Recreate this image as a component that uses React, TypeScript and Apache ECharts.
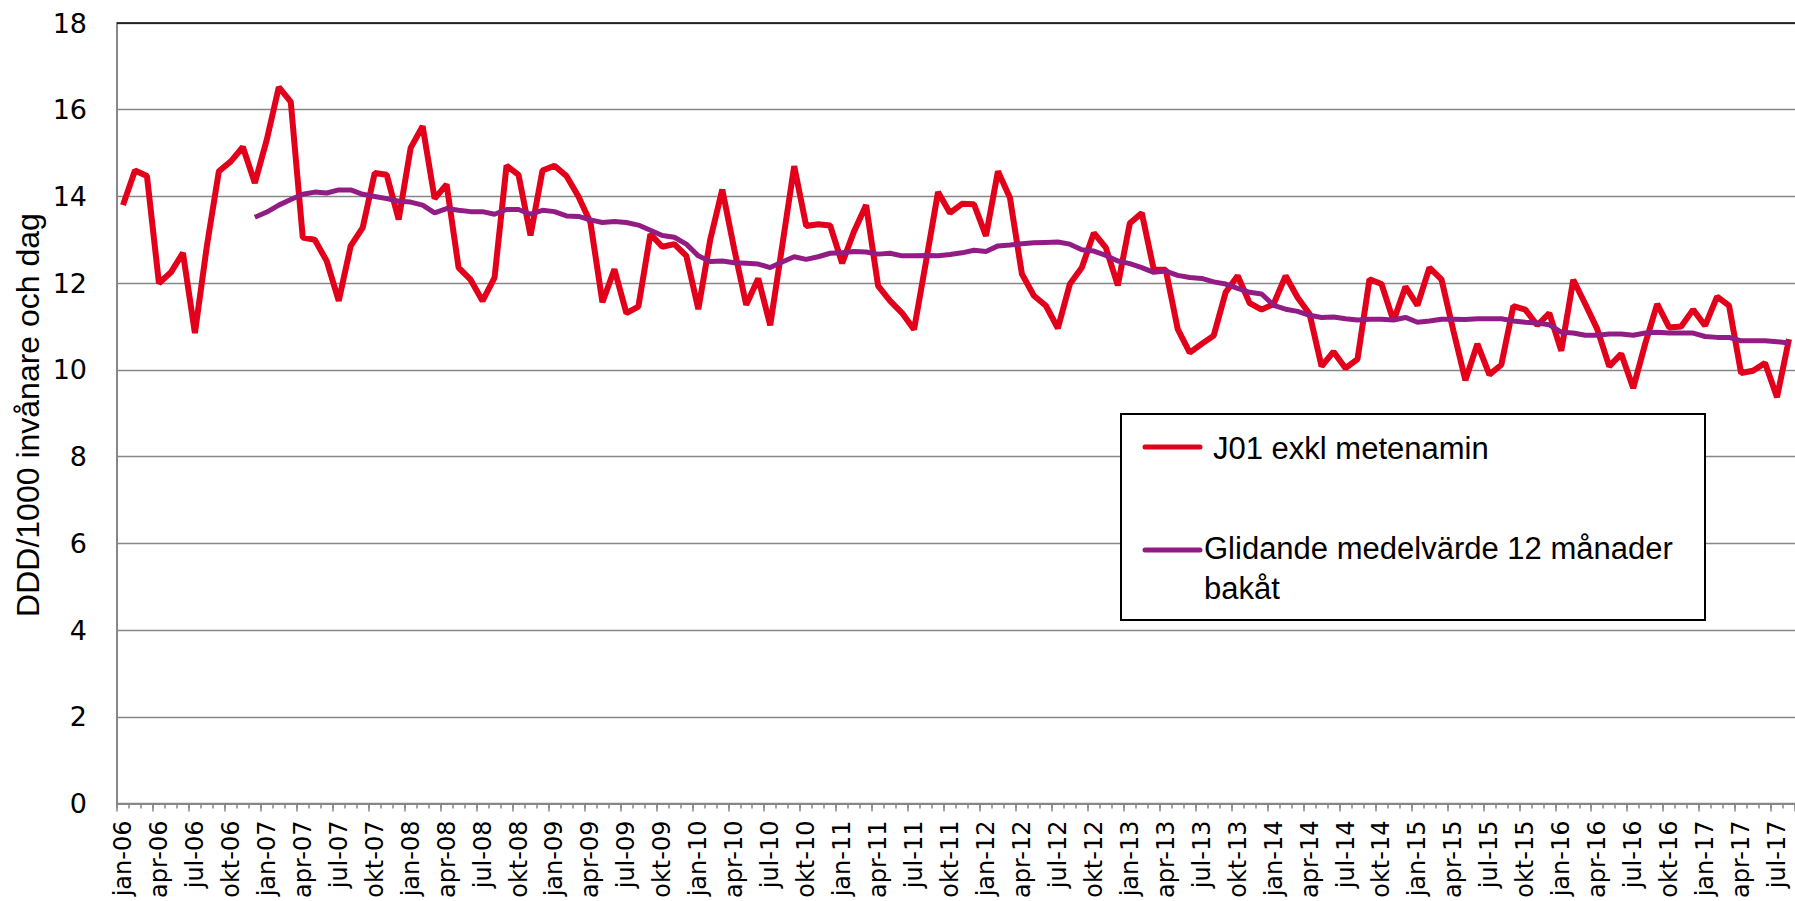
import React, { useEffect, useRef } from "react";
import * as echarts from "echarts";

const monthNames = ["jan", "feb", "mar", "apr", "maj", "jun", "jul", "aug", "sep", "okt", "nov", "dec"];
const years = ["06", "07", "08", "09", "10", "11", "12", "13", "14", "15", "16", "17"];
const lastYearMonths = 8; // jan-17 .. aug-17

const categories: string[] = [];
years.forEach((y, yi) => {
  const n = yi === years.length - 1 ? lastYearMonths : 12;
  for (let m = 0; m < n; m++) categories.push(`${monthNames[m]}-${y}`);
});

const seriesNames = ["J01 exkl metenamin", "Glidande medelvärde 12 månader bakåt"];

const j01Values = [
  13.8, 14.6, 14.47, 12.0, 12.25, 12.7, 10.85, 12.86, 14.58, 14.81, 15.14, 14.31,
  15.31, 16.52, 16.18, 13.05, 13.0, 12.51, 11.59, 12.86, 13.28, 14.54, 14.5, 13.47,
  15.12, 15.62, 13.95, 14.28, 12.36, 12.08, 11.59, 12.13, 14.71, 14.5, 13.1, 14.6,
  14.71, 14.47, 14.0, 13.4, 11.56, 12.32, 11.31, 11.46, 13.13, 12.84, 12.9, 12.63,
  11.4, 13.01, 14.16, 12.78, 11.5, 12.11, 11.03, 12.86, 14.7, 13.32, 13.36, 13.33,
  12.46, 13.2, 13.8, 11.94, 11.59, 11.31, 10.93, 12.5, 14.1, 13.62, 13.83, 13.82,
  13.09, 14.58, 13.97, 12.21, 11.71, 11.48, 10.96, 11.98, 12.36, 13.16, 12.82, 11.95,
  13.38, 13.62, 12.31, 12.31, 10.94, 10.4, 10.6, 10.79, 11.79, 12.17, 11.54, 11.39,
  11.52, 12.17, 11.67, 11.29, 10.08, 10.42, 10.04, 10.25, 12.09, 11.98, 11.13, 11.92,
  11.49, 12.36, 12.09, 10.9, 9.76, 10.6, 9.89, 10.12, 11.47, 11.39, 11.03, 11.31,
  10.44, 12.08, 11.52, 10.94, 10.08, 10.37, 9.58, 10.6, 11.52, 10.98, 11.0, 11.39,
  11.02, 11.69, 11.48, 9.93, 9.98, 10.16, 9.37, 10.71,
];

const movingAvgValues: (number | null)[] = [
  null, null, null, null, null, null, null, null, null, null, null, 13.52,
  13.64, 13.8, 13.93, 14.05, 14.1, 14.08, 14.15, 14.15, 14.05, 14.0, 13.95, 13.89,
  13.87, 13.8, 13.62, 13.72, 13.68, 13.65, 13.65, 13.59, 13.7, 13.7, 13.59, 13.68,
  13.65, 13.55, 13.54, 13.46, 13.4, 13.42, 13.4, 13.34, 13.22, 13.1, 13.06, 12.9,
  12.63, 12.5, 12.51, 12.47, 12.46, 12.44, 12.36, 12.49, 12.61, 12.55, 12.61, 12.69,
  12.7, 12.73, 12.72, 12.67, 12.69, 12.63, 12.63, 12.64, 12.63, 12.66, 12.7, 12.76,
  12.73, 12.86, 12.88, 12.91, 12.93, 12.94, 12.95, 12.9, 12.77, 12.74, 12.64, 12.51,
  12.45, 12.36, 12.25, 12.28, 12.18, 12.13, 12.11, 12.03, 11.98, 11.88, 11.79, 11.75,
  11.49, 11.4, 11.35, 11.26, 11.21, 11.22, 11.18, 11.15, 11.17, 11.17, 11.15, 11.21,
  11.1, 11.13, 11.17, 11.17, 11.16, 11.18, 11.18, 11.18, 11.13, 11.1, 11.08, 11.04,
  10.87, 10.85, 10.8, 10.8, 10.83, 10.83, 10.8, 10.85, 10.87, 10.85, 10.85, 10.85,
  10.77, 10.75, 10.75, 10.67, 10.67, 10.67, 10.65, 10.62,
];

const yAxisTitle = "DDD/1000 invånare och dag";
const legendLabels = ["J01 exkl metenamin", "Glidande medelvärde 12 månader\nbakåt"];

const RED = "#E2001A";
const PURPLE = "#921C84";
const GRID_GRAY = "#878787";

export default function App() {
  const ref = useRef<HTMLDivElement>(null);

  useEffect(() => {
    if (!ref.current) return;
    const chart = echarts.init(ref.current, undefined, { renderer: "svg" });
    const tickStyle = { color: GRID_GRAY, width: 1.5 };
    const option: any = {
      animation: false,
      backgroundColor: "#ffffff",
      legend: { show: false, data: seriesNames },
      grid: { left: 117, right: 0, top: 23, bottom: 94, containLabel: false },
      xAxis: [
        {
          type: "category",
          data: categories,
          position: "bottom",
          offset: 0,
          boundaryGap: true,
          axisLine: { show: true, lineStyle: { color: GRID_GRAY, width: 2 } },
          axisTick: { show: true, interval: 2, length: 8, lineStyle: tickStyle },
          axisLabel: {
            interval: 2,
            rotate: 90,
            margin: 17,
            fontSize: 24,
            fontFamily: "DejaVu Sans",
            color: "#000",
          },
          splitLine: { show: false },
        },
        {
          type: "category",
          data: categories,
          position: "bottom",
          offset: 0,
          boundaryGap: true,
          axisLine: { show: false },
          axisTick: { show: true, interval: 0, length: 5, lineStyle: tickStyle },
          axisLabel: { show: false },
          splitLine: { show: false },
        },
      ],
      yAxis: {
        type: "value",
        min: 0,
        max: 18,
        interval: 2,
        axisLine: { show: true, lineStyle: { color: GRID_GRAY, width: 2 } },
        axisTick: { show: false },
        axisLabel: {
          fontSize: 27,
          fontFamily: "DejaVu Sans",
          color: "#000",
          margin: 30,
        },
        splitLine: { show: true, lineStyle: { color: GRID_GRAY, width: 1.3 } },
      },
      series: [
        {
          name: seriesNames[0],
          type: "line",
          xAxisIndex: 0,
          data: j01Values,
          showSymbol: false,
          symbol: "none",
          lineStyle: { color: RED, width: 6 },
          itemStyle: { color: RED },
          z: 3,
        },
        {
          name: seriesNames[1],
          type: "line",
          xAxisIndex: 0,
          data: movingAvgValues,
          showSymbol: false,
          symbol: "none",
          connectNulls: false,
          lineStyle: { color: PURPLE, width: 5 },
          itemStyle: { color: PURPLE },
          z: 4,
        },
      ],
      graphic: [
        {
          type: "line",
          z: 50,
          shape: { x1: 117, y1: 23, x2: 1795, y2: 23 },
          style: { stroke: "#000", lineWidth: 1.3 },
        },
        {
          type: "text",
          z: 50,
          x: 28,
          y: 415,
          rotation: Math.PI / 2,
          style: {
            text: yAxisTitle,
            fontSize: 32,
            fontFamily: "Liberation Sans",
            fill: "#000",
            align: "center",
            verticalAlign: "middle",
          },
        },
        {
          type: "group",
          z: 100,
          children: [
            {
              type: "rect",
              z: 100,
              shape: { x: 1121, y: 414, width: 584, height: 206 },
              style: { fill: "#fff", stroke: "#000", lineWidth: 2 },
            },
            {
              type: "line",
              z: 101,
              shape: { x1: 1145, y1: 447, x2: 1200, y2: 447 },
              style: { stroke: RED, lineWidth: 5, lineCap: "round" },
            },
            {
              type: "text",
              z: 101,
              x: 1213,
              y: 448,
              style: {
                text: legendLabels[0],
                fontSize: 31,
                fontFamily: "Liberation Sans",
                fill: "#000",
                align: "left",
                verticalAlign: "middle",
              },
            },
            {
              type: "line",
              z: 101,
              shape: { x1: 1145, y1: 550, x2: 1200, y2: 550 },
              style: { stroke: PURPLE, lineWidth: 5, lineCap: "round" },
            },
            {
              type: "text",
              z: 101,
              x: 1204,
              y: 528,
              style: {
                text: legendLabels[1],
                fontSize: 31,
                lineHeight: 40,
                fontFamily: "Liberation Sans",
                fill: "#000",
                align: "left",
                verticalAlign: "top",
              },
            },
          ],
        },
      ],
    };
    chart.setOption(option);
    return () => chart.dispose();
  }, []);

  return (
    <div
      ref={ref}
      style={{ position: "fixed", left: 0, top: 0, width: 1795, height: 901, background: "#fff" }}
    />
  );
}
